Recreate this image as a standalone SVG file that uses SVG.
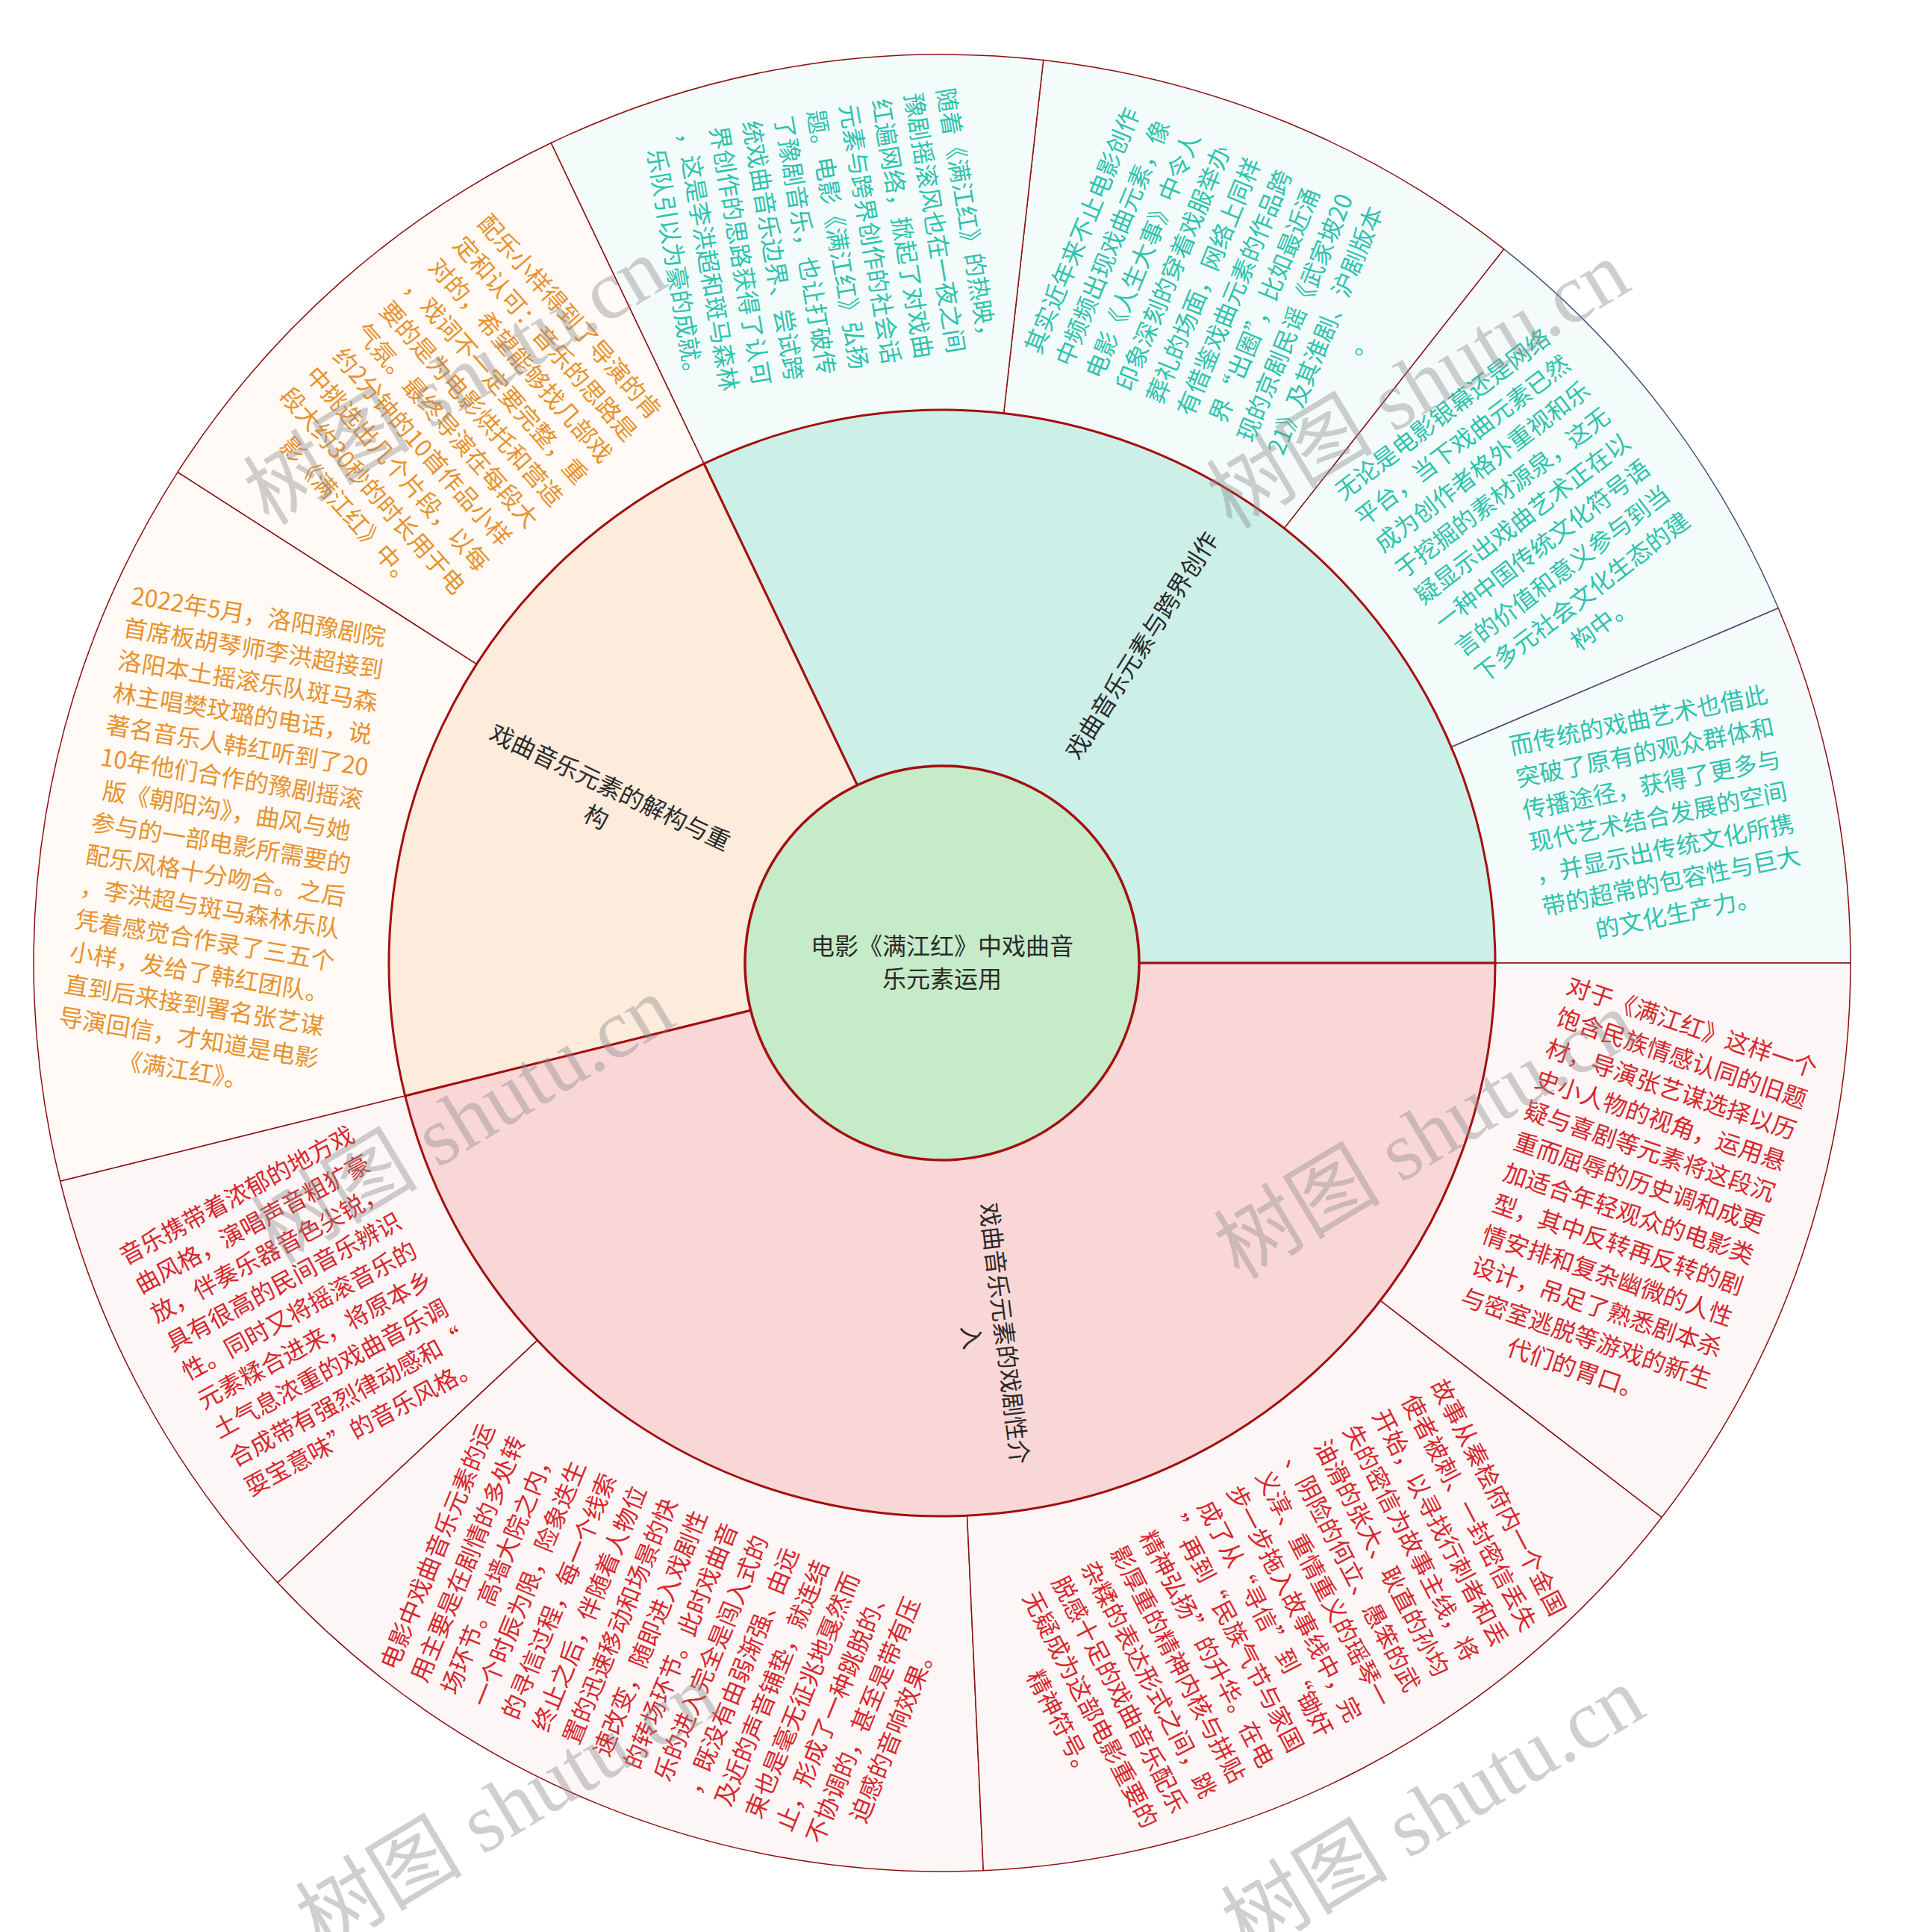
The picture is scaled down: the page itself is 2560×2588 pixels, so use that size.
<svg xmlns="http://www.w3.org/2000/svg" width="2560" height="2588" viewBox="0 0 2560 2588">
<style>
.t{font-family:'Noto Sans CJK SC','Noto Sans',sans-serif;font-size:32px;text-anchor:middle}
.teal{fill:#2ec3ad}
.org{fill:#e8922e}
.red{fill:#d8262c}
.lbl{fill:#2a2a2a}
.oT{fill:#f4fbfb;stroke:#8b1010;stroke-width:1.5}
.oO{fill:#fffaf5;stroke:#8b1010;stroke-width:1.5}
.oR{fill:#fdf6f6;stroke:#8b1010;stroke-width:1.5}
.mid{stroke:#a31010;stroke-width:3}
.wm{font-family:'Liberation Serif','Noto Sans CJK SC',serif;font-size:112px;fill:#8a8a8a;opacity:0.4}
</style>
<rect width="2560" height="2588" fill="#ffffff"/>
<g id="outer-sectors">
<g id="n-chuantong"><path class="oT" d="M2479,1290 A1217,1217 0 0 0 2382.2,814.5 L1944.1,1000.5 A741,741 0 0 1 2003,1290 Z"/>
<text class="t teal" transform="translate(2221.3,1094.8) rotate(-11.5)"><tspan x="0" y="-121">而传统的戏曲艺术也借此</tspan><tspan x="0" y="-77">突破了原有的观众群体和</tspan><tspan x="0" y="-33">传播途径，获得了更多与</tspan><tspan x="0" y="11">现代艺术结合发展的空间</tspan><tspan x="0" y="55">，并显示出传统文化所携</tspan><tspan x="0" y="99">带的超常的包容性与巨大</tspan><tspan x="0" y="143">的文化生产力。</tspan></text></g>
<g id="n-wulun"><path class="oT" style="stroke:#46507a" d="M2382.2,814.5 A1217,1217 0 0 0 2014.6,333.6 L1720.2,707.6 A741,741 0 0 1 1944.1,1000.5 Z"/>
<text class="t teal" transform="translate(2039.7,695.4) rotate(-37.4)"><tspan x="0" y="-165">无论是电影银幕还是网络</tspan><tspan x="0" y="-121">平台，当下戏曲元素已然</tspan><tspan x="0" y="-77">成为创作者格外重视和乐</tspan><tspan x="0" y="-33">于挖掘的素材源泉，这无</tspan><tspan x="0" y="11">疑显示出戏曲艺术正在以</tspan><tspan x="0" y="55">一种中国传统文化符号语</tspan><tspan x="0" y="99">言的价值和意义参与到当</tspan><tspan x="0" y="143">下多元社会文化生态的建</tspan><tspan x="0" y="187">构中。</tspan></text></g>
<g id="n-qishi"><path class="oT" d="M2014.6,333.6 A1217,1217 0 0 0 1397.7,80.5 L1344.6,553.6 A741,741 0 0 1 1720.2,707.6 Z"/>
<text class="t teal" transform="translate(1633.5,384.2) rotate(-67.7)"><tspan x="0" y="-187">其实近年来不止电影创作</tspan><tspan x="0" y="-143">中频频出现戏曲元素，像</tspan><tspan x="0" y="-99">电影《人生大事》中令人</tspan><tspan x="0" y="-55">印象深刻的穿着戏服举办</tspan><tspan x="0" y="-11">葬礼的场面，网络上同样</tspan><tspan x="0" y="33">有借鉴戏曲元素的作品跨</tspan><tspan x="0" y="77">界“出圈”，比如最近涌</tspan><tspan x="0" y="121">现的京剧民谣《武家坡20</tspan><tspan x="0" y="165">21》及其淮剧、沪剧版本</tspan><tspan x="0" y="209">。</tspan></text></g>
<g id="n-suizhe"><path class="oT" d="M1397.7,80.5 A1217,1217 0 0 0 738.1,191.5 L943.0,621.2 A741,741 0 0 1 1344.6,553.6 Z"/>
<text class="t teal" transform="translate(1099.6,324.6) rotate(80.45)"><tspan x="0" y="-187">随着《满江红》的热映，</tspan><tspan x="0" y="-143">豫剧摇滚风也在一夜之间</tspan><tspan x="0" y="-99">红遍网络，掀起了对戏曲</tspan><tspan x="0" y="-55">元素与跨界创作的社会话</tspan><tspan x="0" y="-11">题。电影《满江红》弘扬</tspan><tspan x="0" y="33">了豫剧音乐，也让打破传</tspan><tspan x="0" y="77">统戏曲音乐边界、尝试跨</tspan><tspan x="0" y="121">界创作的思路获得了认可</tspan><tspan x="0" y="165">，这是李洪超和斑马森林</tspan><tspan x="0" y="209">乐队引以为豪的成就。</tspan></text></g>
<g id="n-peiyue"><path class="oO" d="M738.1,191.5 A1217,1217 0 0 0 237.9,632.6 L638.4,889.7 A741,741 0 0 1 943.0,621.2 Z"/>
<text class="t org" transform="translate(614.6,555.7) rotate(48.6)"><tspan x="0" y="-187">配乐小样得到了导演的肯</tspan><tspan x="0" y="-143">定和认可：音乐的思路是</tspan><tspan x="0" y="-99">对的，希望能够找几部戏</tspan><tspan x="0" y="-55">，戏词不一定要完整，重</tspan><tspan x="0" y="-11">要的是为电影烘托和营造</tspan><tspan x="0" y="33">气氛。最终导演在每段大</tspan><tspan x="0" y="77">约2分钟的10首作品小样</tspan><tspan x="0" y="121">中挑选出几个片段，以每</tspan><tspan x="0" y="165">段大约30秒的时长用于电</tspan><tspan x="0" y="209">影《满江红》中。</tspan></text></g>
<g id="n-2022"><path class="oO" d="M237.9,632.6 A1217,1217 0 0 0 80.7,1582.3 L542.7,1468.0 A741,741 0 0 1 638.4,889.7 Z"/>
<text class="t org" transform="translate(296.1,1130.1) rotate(9.4)"><tspan x="0" y="-297">2022年5月，洛阳豫剧院</tspan><tspan x="0" y="-253">首席板胡琴师李洪超接到</tspan><tspan x="0" y="-209">洛阳本土摇滚乐队斑马森</tspan><tspan x="0" y="-165">林主唱樊玟璐的电话，说</tspan><tspan x="0" y="-121">著名音乐人韩红听到了20</tspan><tspan x="0" y="-77">10年他们合作的豫剧摇滚</tspan><tspan x="0" y="-33">版《朝阳沟》，曲风与她</tspan><tspan x="0" y="11">参与的一部电影所需要的</tspan><tspan x="0" y="55">配乐风格十分吻合。之后</tspan><tspan x="0" y="99">，李洪超与斑马森林乐队</tspan><tspan x="0" y="143">凭着感觉合作录了三五个</tspan><tspan x="0" y="187">小样，发给了韩红团队。</tspan><tspan x="0" y="231">直到后来接到署名张艺谋</tspan><tspan x="0" y="275">导演回信，才知道是电影</tspan><tspan x="0" y="319">《满江红》。</tspan></text></g>
<g id="n-yinyue"><path class="oR" d="M80.7,1582.3 A1217,1217 0 0 0 371.9,2120.0 L720.0,1795.4 A741,741 0 0 1 542.7,1468.0 Z"/>
<text class="t red" transform="translate(401.3,1756.4) rotate(-28.45)"><tspan x="0" y="-165">音乐携带着浓郁的地方戏</tspan><tspan x="0" y="-121">曲风格，演唱声音粗犷豪</tspan><tspan x="0" y="-77">放，伴奏乐器音色尖锐，</tspan><tspan x="0" y="-33">具有很高的民间音乐辨识</tspan><tspan x="0" y="11">性。同时又将摇滚音乐的</tspan><tspan x="0" y="55">元素糅合进来，将原本乡</tspan><tspan x="0" y="99">土气息浓重的戏曲音乐调</tspan><tspan x="0" y="143">合成带有强烈律动感和“</tspan><tspan x="0" y="187">耍宝意味”的音乐风格。</tspan></text></g>
<g id="n-dianying"><path class="oR" d="M371.9,2120.0 A1217,1217 0 0 0 1317.3,2505.8 L1295.6,2030.3 A741,741 0 0 1 720.0,1795.4 Z"/>
<text class="t red" transform="translate(892.1,2196.5) rotate(-67.8)"><tspan x="0" y="-319">电影中戏曲音乐元素的运</tspan><tspan x="0" y="-275">用主要是在剧情的多处转</tspan><tspan x="0" y="-231">场环节。高墙大院之内，</tspan><tspan x="0" y="-187">一个时辰为限，险象迭生</tspan><tspan x="0" y="-143">的寻信过程，每一个线索</tspan><tspan x="0" y="-99">终止之后，伴随着人物位</tspan><tspan x="0" y="-55">置的迅速移动和场景的快</tspan><tspan x="0" y="-11">速改变，随即进入戏剧性</tspan><tspan x="0" y="33">的转场环节。此时戏曲音</tspan><tspan x="0" y="77">乐的进入完全是闯入式的</tspan><tspan x="0" y="121">，既没有由弱渐强、由远</tspan><tspan x="0" y="165">及近的声音铺垫，就连结</tspan><tspan x="0" y="209">束也是毫无征兆地戛然而</tspan><tspan x="0" y="253">止，形成了一种跳脱的、</tspan><tspan x="0" y="297">不协调的，甚至是带有压</tspan><tspan x="0" y="341">迫感的音响效果。</tspan></text></g>
<g id="n-gushi"><path class="oR" d="M1317.3,2505.8 A1217,1217 0 0 0 2226.2,2032.5 L1849.1,1742.1 A741,741 0 0 1 1295.6,2030.3 Z"/>
<text class="t red" transform="translate(1714.0,2158.4) rotate(62.5)"><tspan x="0" y="-319">故事从秦桧府内一个金国</tspan><tspan x="0" y="-275">使者被刺、一封密信丢失</tspan><tspan x="0" y="-231">开始，以寻找行刺者和丢</tspan><tspan x="0" y="-187">失的密信为故事主线，将</tspan><tspan x="0" y="-143">油滑的张大、耿直的孙均</tspan><tspan x="0" y="-99">、阴险的何立、愚笨的武</tspan><tspan x="0" y="-55">义淳、重情重义的瑶琴一</tspan><tspan x="0" y="-11">步一步拖入故事线中，完</tspan><tspan x="0" y="33">成了从“寻信”到“锄奸</tspan><tspan x="0" y="77">”再到“民族气节与家国</tspan><tspan x="0" y="121">精神弘扬”的升华。在电</tspan><tspan x="0" y="165">影厚重的精神内核与拼贴</tspan><tspan x="0" y="209">杂糅的表达形式之间，跳</tspan><tspan x="0" y="253">脱感十足的戏曲音乐配乐</tspan><tspan x="0" y="297">无疑成为这部电影重要的</tspan><tspan x="0" y="341">精神符号。</tspan></text></g>
<g id="n-duiyu"><path class="oR" d="M2226.2,2032.5 A1217,1217 0 0 0 2479,1290 L2003,1290 A741,741 0 0 1 1849.1,1742.1 Z"/>
<text class="t red" transform="translate(2188.7,1605.5) rotate(18.8)"><tspan x="0" y="-231">对于《满江红》这样一个</tspan><tspan x="0" y="-187">饱含民族情感认同的旧题</tspan><tspan x="0" y="-143">材，导演张艺谋选择以历</tspan><tspan x="0" y="-99">史小人物的视角，运用悬</tspan><tspan x="0" y="-55">疑与喜剧等元素将这段沉</tspan><tspan x="0" y="-11">重而屈辱的历史调和成更</tspan><tspan x="0" y="33">加适合年轻观众的电影类</tspan><tspan x="0" y="77">型，其中反转再反转的剧</tspan><tspan x="0" y="121">情安排和复杂幽微的人性</tspan><tspan x="0" y="165">设计，吊足了熟悉剧本杀</tspan><tspan x="0" y="209">与密室逃脱等游戏的新生</tspan><tspan x="0" y="253">代们的胃口。</tspan></text></g>
</g>
<g id="middle-sectors">
<g id="n-kuajie"><path class="mid" fill="#ccefe8" d="M1262,1290 L2003,1290 A741,741 0 0 0 943.0,621.2 Z"/>
<text class="t lbl" transform="translate(1530.1,865.0) rotate(-57.75)"><tspan x="0" y="11">戏曲音乐元素与跨界创作</tspan></text></g>
<g id="n-jiegou"><path class="mid" fill="#fdebdb" d="M1262,1290 L943.0,621.2 A741,741 0 0 0 542.7,1468.0 Z"/>
<text class="t lbl" transform="translate(807.7,1075.2) rotate(25.3)"><tspan x="0" y="-11">戏曲音乐元素的解构与重</tspan><tspan x="0" y="33">构</tspan></text></g>
<g id="n-xijuxing"><path class="mid" fill="#fad7d7" d="M1262,1290 L542.7,1468.0 A741,741 0 0 0 2003,1290 Z"/>
<text class="t lbl" transform="translate(1322.8,1788.8) rotate(83.05)"><tspan x="0" y="-11">戏曲音乐元素的戏剧性介</tspan><tspan x="0" y="33">入</tspan></text></g>
</g>
<g id="n-root">
<circle cx="1262" cy="1290" r="264" fill="#c5ebc8" stroke="#a31010" stroke-width="3.5"/>
<text class="t lbl" x="1262" y="1279">电影《满江红》中戏曲音</text>
<text class="t lbl" x="1262" y="1323">乐元素运用</text>
</g>
<g id="connectors"></g>
<g id="watermarks">
<text class="wm" transform="translate(360,705) rotate(-31)">树图 shutu.cn</text>
<text class="wm" transform="translate(1650,710) rotate(-31)">树图 shutu.cn</text>
<text class="wm" transform="translate(370,1695) rotate(-31)">树图 shutu.cn</text>
<text class="wm" transform="translate(1660,1715) rotate(-31)">树图 shutu.cn</text>
<text class="wm" transform="translate(430,2615) rotate(-31)">树图 shutu.cn</text>
<text class="wm" transform="translate(1670,2620) rotate(-31)">树图 shutu.cn</text>
</g>
</svg>
